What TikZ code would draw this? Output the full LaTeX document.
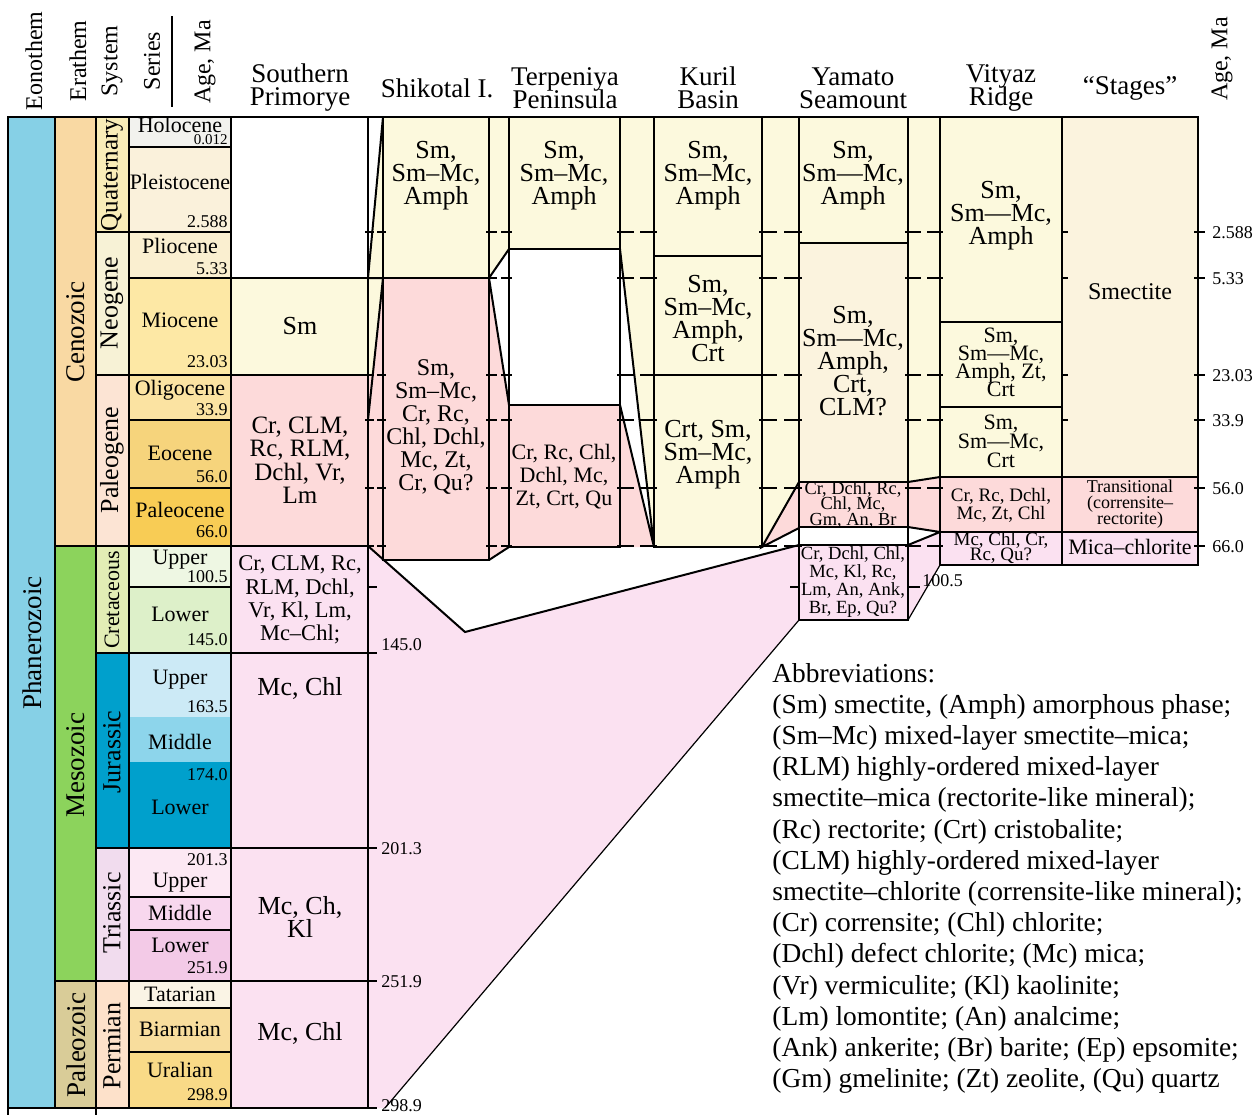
\documentclass[tikz,border=0pt]{standalone}
\usepackage{fontspec}
\setmainfont{Liberation Serif}
\usetikzlibrary{calc}

\definecolor{eonblue}{HTML}{86D0E6}
\definecolor{cenoz}{HTML}{F9D9A3}
\definecolor{mesoz}{HTML}{8CD35C}
\definecolor{paleoz}{HTML}{D9CC98}
\definecolor{quat}{HTML}{F9EDB8}
\definecolor{neog}{HTML}{F7F2D6}
\definecolor{paleog}{HTML}{FCE4D4}
\definecolor{cret}{HTML}{E2EDB5}
\definecolor{jur}{HTML}{00A0CC}
\definecolor{trias}{HTML}{F1DCEE}
\definecolor{perm}{HTML}{FDE1CA}
\definecolor{holo}{HTML}{F2F2EE}
\definecolor{pleist}{HTML}{FAF1DB}
\definecolor{plio}{HTML}{FAEFD0}
\definecolor{mio}{HTML}{FDE8A5}
\definecolor{oligo}{HTML}{FBE3A2}
\definecolor{eoc}{HTML}{F6D47C}
\definecolor{paleoc}{HTML}{F8CC55}
\definecolor{upk}{HTML}{EEF7E3}
\definecolor{lok}{HTML}{DDF0C9}
\definecolor{upj}{HTML}{CCEAF6}
\definecolor{midj}{HTML}{8DD5EB}
\definecolor{loj}{HTML}{00A0CC}
\definecolor{upt}{HTML}{FCE8F3}
\definecolor{midt}{HTML}{F8D7EE}
\definecolor{lot}{HTML}{F3CAE7}
\definecolor{tat}{HTML}{FAF4E5}
\definecolor{biar}{HTML}{F8DD9D}
\definecolor{ural}{HTML}{F9DA87}
\definecolor{cream}{HTML}{FCF9DD}
\definecolor{creamb}{HTML}{FBF3DE}
\definecolor{salmon}{HTML}{FDDADA}
\definecolor{lav}{HTML}{FBE1F1}

\newcommand{\fsz}[2]{\fontsize{#1}{#2}\selectfont\lineskiplimit=-20pt}
\newcommand{\strat}[5]{\filldraw[box, fill=#5] (#1,#2) rectangle (#3,#4);}

\tikzset{
  box/.style={draw, line width=1pt},
  slant/.style={line width=1pt},
  thinslant/.style={line width=0.6pt},
  tickline/.style={line width=1pt},
  mintxt/.style={align=center, font=\fsz{13}{11.5}},
  mintxtm/.style={align=center, font=\fsz{11}{11.5}},
  mintxts/.style={align=center, font=\fsz{9.5}{7.5}},
  rotname/.style={rotate=90, font=\fsz{13.5}{14}},
  sysname/.style={rotate=90, font=\fsz{13}{14}},
  sername/.style={font=\fsz{11}{12}},
  agenum/.style={anchor=east, font=\fsz{9}{10}, inner sep=1pt},
  axnum/.style={anchor=west, font=\fsz{9}{10}, inner sep=1pt},
  head/.style={align=center, font=\fsz{13.5}{11.5}},
  headrot/.style={rotate=90, font=\fsz{12}{12}},
  abbr/.style={anchor=base west, font=\fsz{13.7}{15}, inner sep=0pt},
}

\begin{document}
\begin{tikzpicture}[x=0.5pt, y=-0.5pt]
\useasboundingbox (0,0) rectangle (1259,1115);

% column heads
\node[headrot] (hEon) at (34,61) {Eonothem};
\node[headrot] (hEra) at (78,61) {Erathem};
\node[headrot] (hSys) at (112,61) {System};
\node[headrot] (hSer) at (152,61) {Series};
\draw[line width=0.6pt] (172,16) -- (172,107);
\node[headrot] (hAge) at (205,62) {Age, Ma};
\node[head] (hSP) at (300,88) {Southern\\Primorye};
\node[head] (hSH) at (437,88) {Shikotal I.};
\node[head] (hTP) at (565,88) {Terpeniya\\Peninsula};
\node[head] (hKU) at (708,88) {Kuril\\Basin};
\node[head] (hYA) at (853,88) {Yamato\\Seamount};
\node[head] (hVI) at (1001,88) {Vityaz\\Ridge};
\node[head] (hST) at (1130,88) {``Stages''};
\node[headrot] (hAgeR) at (1222,59) {Age, Ma};

% fills between the columns
\fill[cream] (383,117) -- (383,278) -- (372.8,375) -- (368,375) -- (368,278) -- cycle;
\fill[salmon] (383,278) -- (383,560) -- (368,546) -- (368,375) -- (372.8,375) -- cycle;
\fill[cream] (489,117) -- (509,117) -- (509,249) -- (489,278) -- cycle;
\fill[salmon] (489,278) -- (509,405) -- (509,547) -- (489,560) -- cycle;
\fill[cream] (620,117) -- (654,117) -- (654,547) -- (620,249) -- cycle;
\fill[salmon] (620,405) -- (654,547) -- (620,547) -- cycle;
\fill[cream] (762,117) -- (799,117) -- (799,482) -- (762,547) -- cycle;
\fill[salmon] (762,547) -- (799,482) -- (799,528) -- cycle;
\fill[cream] (908,117) -- (940,117) -- (940,477) -- (908,482) -- cycle;
\fill[salmon] (908,482) -- (940,477) -- (940,532) -- (908,527) -- cycle;
\fill[lav] (908,545) -- (940,532) -- (940,565) -- (908,620) -- cycle;
\fill[lav] (368,546) -- (465,632) -- (799,545) -- (799,620) -- (385,1108) -- (368,1108) -- cycle;

% time scale
\strat{8}{117}{55}{1108}{eonblue}
\foreach \ya/\yb/\col in {117/546/cenoz, 546/981/mesoz, 981/1108/paleoz}
  \strat{55}{\ya}{96}{\yb}{\col}
\foreach \ya/\yb/\col in {117/232/quat, 232/375/neog, 375/546/paleog, 546/653/cret, 653/848/jur, 848/981/trias, 981/1108/perm}
  \strat{96}{\ya}{129}{\yb}{\col}
\foreach \ya/\yb/\col in {117/147/holo, 147/232/pleist, 232/278/plio, 278/375/mio, 375/420/oligo, 420/488/eoc, 488/546/paleoc, 546/587/upk, 587/653/lok, 848/897/upt, 897/930/midt, 930/981/lot, 981/1008/tat, 1008/1052/biar, 1052/1108/ural}
  \strat{129}{\ya}{231}{\yb}{\col}
\foreach \ya/\yb/\col in {653/717/upj, 717/762/midj, 762/848/loj}
  \fill[\col] (129,\ya) rectangle (231,\yb);
\draw[box] (129,653) rectangle (231,848);
\draw[line width=1pt] (8,1108) -- (8,1115) (96,1108) -- (96,1115);

% Southern Primorye
\strat{231}{117}{368}{278}{white}
\strat{231}{278}{368}{375}{cream}
\strat{231}{375}{368}{546}{salmon}
\strat{231}{546}{368}{653}{lav}
\strat{231}{653}{368}{848}{lav}
\strat{231}{848}{368}{981}{lav}
\strat{231}{981}{368}{1108}{lav}
% Shikotal I.
\strat{383}{117}{489}{278}{cream}
\strat{383}{278}{489}{560}{salmon}
% Terpeniya Peninsula
\strat{509}{117}{620}{249}{cream}
\strat{509}{249}{620}{405}{white}
\strat{509}{405}{620}{547}{salmon}
% Kuril Basin
\strat{654}{117}{762}{256}{cream}
\strat{654}{256}{762}{375}{cream}
\strat{654}{375}{762}{547}{cream}
% Yamato Seamount
\strat{799}{117}{908}{243}{cream}
\strat{799}{243}{908}{482}{creamb}
\strat{799}{482}{908}{527}{salmon}
\strat{799}{527}{908}{545}{white}
\strat{799}{545}{908}{620}{lav}
% Vityaz Ridge
\strat{940}{117}{1062}{322}{cream}
\strat{940}{322}{1062}{407}{cream}
\strat{940}{407}{1062}{477}{cream}
\strat{940}{477}{1062}{532}{salmon}
\strat{940}{532}{1062}{565}{lav}
% Stages
\strat{1062}{117}{1198}{477}{creamb}
\strat{1062}{477}{1198}{532}{salmon}
\strat{1062}{532}{1198}{565}{lav}
\draw[box] (8,117) -- (1198,117);

% correlation lines
\draw[slant] (383,117) -- (368,278) -- (383,278) -- (368,420);
\draw[slant] (509,249) -- (489,278) -- (509,405);
\draw[slant] (489,560) -- (509,547);
\draw[slant] (620,249) -- (654,547) -- (620,405);
\draw[slant] (799,482) -- (762,547) -- (799,528);
\draw[slant] (908,482) -- (940,477);
\draw[slant] (908,527) -- (940,532) -- (908,545);
\draw[thinslant] (940,565) -- (908,620);
\draw[slant] (368,546) -- (465,632) -- (799,545);
\draw[thinslant] (799,620) -- (385,1108);

% ticks
\foreach \xa/\xb in {368/383, 489/509, 620/654, 762/799, 908/940}{
  \pgfmathsetmacro{\d}{0.4*(\xb-\xa)}
  \foreach \y in {232,278,375,420,488,546}{
    \draw[tickline] (\xa-3,\y) -- (\xa+\d,\y);
    \draw[tickline] (\xb-\d,\y) -- (\xb+3,\y);
  }
}
\foreach \y in {587,653,848,981,1108} \draw[tickline] (368,\y) -- (377,\y);
\draw[tickline] (790,587) -- (799,587);
\draw[tickline] (908,587) -- (920,587);
\foreach \y in {232,278,375,420} \draw[tickline] (1062,\y) -- (1068,\y);
\foreach \y/\t [count=\i] in {232/2.588, 278/5.33, 375/23.03, 420/33.9, 488/56.0, 546/66.0}{
  \draw[tickline] (1194,\y) -- (1205,\y);
  \node[axnum] (rax\i) at (1210,\y+1) {\t};
}
\foreach \y/\t [count=\i] in {645/145.0, 849/201.3, 982/251.9, 1106/298.9}
  \node[axnum] (lax\i) at (379,\y) {\t};
\node[axnum] (yax) at (920,581) {100.5};

% time scale names
\node[rotname] (eon) at (32,643) {Phanerozoic};
\node[rotname] (era1) at (76,332) {Cenozoic};
\node[rotname] (era2) at (76,765) {Mesozoic};
\node[rotname] (era3) at (76,1045) {Paleozoic};
\node[sysname, font=\fsz{12.5}{13}] (sys1) at (112,175) {Quaternary};
\node[sysname] (sys2) at (112,303) {Neogene};
\node[sysname] (sys3) at (112,460) {Paleogene};
\node[sysname, font=\fsz{11}{12}] (sys4) at (112,600) {Cretaceous};
\node[sysname] (sys5) at (112,752) {Jurassic};
\node[sysname] (sys6) at (112,913) {Triassic};
\node[sysname] (sys7) at (112,1046) {Permian};
\foreach \y/\t [count=\i] in {125/Holocene, 182/Pleistocene, 246/Pliocene, 320/Miocene, 390/Oligocene, 453/Eocene, 510/Paleocene, 560/Upper, 614/Lower, 680/Upper, 742/Middle, 807/Lower, 883/Upper, 913/Middle, 945/Lower, 994/Tatarian, 1029/Biarmian, 1070/Uralian}
  \node[sername] (ser\i) at (180,\y) {\t};
\node[agenum, font=\fsz{7.5}{8}] (sa0) at (230,140) {0.012};
\foreach \y/\t [count=\i] in {222/2.588, 269/5.33, 362/23.03, 410/33.9, 477/56.0, 532/66.0, 577/100.5, 640/145.0, 707/163.5, 775/174.0, 860/201.3, 968/251.9, 1095/298.9}
  \node[agenum] (sa\i) at (230,\y) {\t};

% mineral names
\node[mintxt] (sp1) at (300,326) {Sm};
\node[mintxt, font=\fsz{12.5}{11.75}] (sp2) at (300,460) {Cr, CLM,\\Rc, RLM,\\Dchl, Vr,\\Lm};
\node[mintxt, font=\fsz{11.25}{11.65}] (sp3) at (300,600) {Cr, CLM, Rc,\\RLM, Dchl,\\Vr, Kl, Lm,\\Mc--Chl;};
\node[mintxt] (sp4) at (300,688) {Mc, Chl};
\node[mintxt] (sp5) at (300,917) {Mc, Ch,\\Kl};
\node[mintxt] (sp6) at (300,1033) {Mc, Chl};
\node[mintxt] (sh1) at (436,176) {Sm,\\Sm--Mc,\\Amph};
\node[mintxt, font=\fsz{12}{11.5}] (sh2) at (436,427) {Sm,\\Sm--Mc,\\Cr, Rc,\\Chl, Dchl,\\Mc, Zt,\\Cr, Qu?};
\node[mintxt] (tp1) at (564,176) {Sm,\\Sm--Mc,\\Amph};
\node[mintxtm] (tp2) at (564,477) {Cr, Rc, Chl,\\Dchl, Mc,\\Zt, Crt, Qu};
\node[mintxt] (ku1) at (708,176) {Sm,\\Sm--Mc,\\Amph};
\node[mintxt] (ku2) at (708,319) {Sm,\\Sm--Mc,\\Amph,\\Crt};
\node[mintxt] (ku3) at (708,455) {Crt, Sm,\\Sm--Mc,\\Amph};
\node[mintxt] (ya1) at (853,176) {Sm,\\Sm---Mc,\\Amph};
\node[mintxt] (ya2) at (853,361) {Sm,\\Sm---Mc,\\Amph,\\Crt,\\CLM?};
\node[mintxts, font=\fsz{9.2}{7.6}] (ya3) at (853,505) {Cr, Dchl, Rc,\\Chl, Mc,\\Gm, An, Br};
\node[mintxts, font=\fsz{9.3}{9}] (ya4) at (853,582) {Cr, Dchl, Chl,\\Mc, Kl, Rc,\\Lm, An, Ank,\\Br, Ep, Qu?};
\node[mintxt] (vi1) at (1001,216) {Sm,\\Sm---Mc,\\Amph};
\node[mintxtm, font=\fsz{11}{9}] (vi2) at (1001,362) {Sm,\\Sm---Mc,\\Amph, Zt,\\Crt};
\node[mintxtm, font=\fsz{11}{9.5}] (vi3) at (1001,441) {Sm,\\Sm---Mc,\\Crt};
\node[mintxts, font=\fsz{9.5}{9}] (vi4) at (1001,505) {Cr, Rc, Dchl,\\Mc, Zt, Chl};
\node[mintxts] (vi5) at (1001,548) {Mc, Chl, Cr,\\Rc, Qu?};
\node[mintxt, font=\fsz{12}{12}] (st1) at (1130,292) {Smectite};
\node[mintxts, font=\fsz{9}{8}] (st2) at (1130,504) {Transitional\\(corrensite--\\rectorite)};
\node[mintxt, font=\fsz{11}{11}] (st3) at (1130,547) {Mica--chlorite};

% abbreviations
\foreach \t [count=\i] in {{Abbreviations:},
  {(Sm) smectite, (Amph) amorphous phase;},
  {(Sm--Mc) mixed-layer smectite--mica;},
  {(RLM) highly-ordered mixed-layer},
  {smectite--mica (rectorite-like mineral);},
  {(Rc) rectorite; (Crt) cristobalite;},
  {(CLM) highly-ordered mixed-layer},
  {smectite--chlorite (corrensite-like mineral);},
  {(Cr) corrensite; (Chl) chlorite;},
  {(Dchl) defect chlorite; (Mc) mica;},
  {(Vr) vermiculite; (Kl) kaolinite;},
  {(Lm) lomontite; (An) analcime;},
  {(Ank) ankerite; (Br) barite; (Ep) epsomite;},
  {(Gm) gmelinite; (Zt) zeolite, (Qu) quartz}}
  \node[abbr] (ab\i) at (772,{682+31.2*(\i-1)}) {\t};
\end{tikzpicture}
\end{document}
